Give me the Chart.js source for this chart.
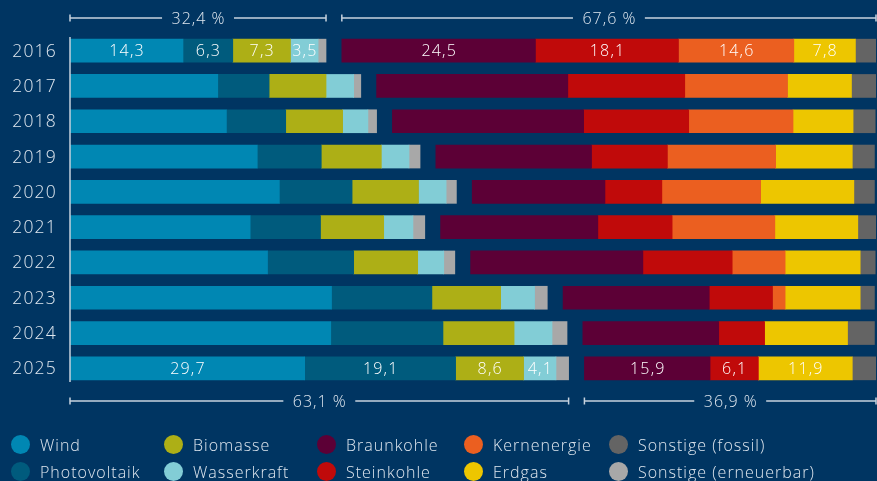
<!DOCTYPE html>
<html lang="de">
<head>
<meta charset="utf-8">
<script src="https://cdn.jsdelivr.net/npm/chart.js@4/dist/chart.umd.min.js"></script>
<style>
    html, body { margin: 0; padding: 0; background: #003562; }
    #wrap { position: relative; width: 877px; height: 481px; overflow: hidden; }
    #legend {
        position: absolute; left: 11px; top: 431px;
        display: grid; grid-template-columns: 153px 153px 147px 145px 240px;
        grid-auto-flow: column; grid-template-rows: 27px 27px;
        font-family: 'Open Sans', sans-serif; font-size: 16px; font-weight: 300;
        letter-spacing: 1px; color: #dfe7ef;
    }
    .item { display: flex; align-items: center; white-space: nowrap; }
    .dot { width: 19px; height: 19px; border-radius: 50%; margin-right: 10px; flex: none; }
</style>
</head>
<body>
<div id="wrap">
    <canvas id="chart" width="877" height="481"></canvas>
    <div id="legend"></div>
</div>
<script>
// Jahre (Kategorien)
const years = ['2016', '2017', '2018', '2019', '2020', '2021', '2022', '2023', '2024', '2025'];

// Anteile in Prozent - erneuerbar
const wind = [14.3, 18.7, 19.8, 23.7, 26.5, 22.8, 25.0, 33.1, 33.0, 29.7];
const photovoltaik = [6.3, 6.5, 7.5, 8.1, 9.2, 8.9, 10.9, 12.7, 14.2, 19.1];
const biomasse = [7.3, 7.2, 7.2, 7.6, 8.4, 8.0, 8.1, 8.7, 9.0, 8.6];
const wasserkraft = [3.5, 3.5, 3.2, 3.5, 3.5, 3.7, 3.3, 4.3, 4.8, 4.1];
const sonstigeErneuerbar = [1.0, 0.9, 1.1, 1.4, 1.3, 1.5, 1.4, 1.6, 1.9, 1.6];

// Anteile in Prozent - fossil / nuklear
const braunkohle = [24.5, 24.2, 24.2, 19.7, 16.8, 19.9, 21.8, 18.5, 17.2, 15.9];
const steinkohle = [18.1, 14.8, 13.3, 9.6, 7.2, 9.4, 11.3, 8.0, 5.8, 6.1];
const kernenergie = [14.6, 13.0, 13.2, 13.7, 12.5, 13.0, 6.7, 1.6, 0, 0];
const erdgas = [7.8, 8.1, 7.6, 9.7, 11.8, 10.5, 9.5, 9.5, 10.5, 11.9];
const sonstigeFossil = [2.6, 3.1, 2.8, 2.8, 2.6, 2.3, 1.9, 1.8, 3.4, 3.0];

// Abstand zwischen den beiden Gruppen (in Prozentpunkten der Achse)
const gapWidth = 2.0;

const textColor = '#dfe7ef';
const lineColor = '#c6d2de';
const fontFamily = "'Open Sans', sans-serif";

const renewable = [
    { label: 'Wind', data: wind, color: '#0087b3', showValue: true },
    { label: 'Photovoltaik', data: photovoltaik, color: '#005b7d', showValue: true },
    { label: 'Biomasse', data: biomasse, color: '#adaf16', showValue: true },
    { label: 'Wasserkraft', data: wasserkraft, color: '#82cdd6', showValue: true },
    { label: 'Sonstige (erneuerbar)', data: sonstigeErneuerbar, color: '#a8a8a8', showValue: false }
];
const fossil = [
    { label: 'Braunkohle', data: braunkohle, color: '#5c0036', showValue: true },
    { label: 'Steinkohle', data: steinkohle, color: '#c00a0a', showValue: true },
    { label: 'Kernenergie', data: kernenergie, color: '#eb5f20', showValue: true },
    { label: 'Erdgas', data: erdgas, color: '#edc600', showValue: true },
    { label: 'Sonstige (fossil)', data: sonstigeFossil, color: '#646464', showValue: false }
];

// Legende in Spalten-Reihenfolge wie im Original
const legendOrder = ['Wind', 'Photovoltaik', 'Biomasse', 'Wasserkraft', 'Braunkohle', 'Steinkohle',
    'Kernenergie', 'Erdgas', 'Sonstige (fossil)', 'Sonstige (erneuerbar)'];

function fmt(v) {
    return v.toFixed(1).replace('.', ',');
}

function toDataset(s) {
    return {
        label: s.label,
        data: s.data,
        backgroundColor: s.color,
        borderWidth: 0,
        barThickness: 23,
        showValue: s.showValue
    };
}

const datasets = renewable.map(toDataset)
    .concat([{ label: 'gap', data: years.map(() => gapWidth), backgroundColor: 'rgba(0,0,0,0)', barThickness: 23, showValue: false }])
    .concat(fossil.map(toDataset));

// Beschriftungen, Klammern und Achslinie
const annotationPlugin = {
    id: 'annotations',
    afterDatasetsDraw(chart) {
        const ctx = chart.ctx;
        const area = chart.chartArea;
        const ds = chart.data.datasets;
        const yScale = chart.scales.y;

        ctx.save();
        // vertikale Achslinie
        ctx.strokeStyle = lineColor;
        ctx.lineWidth = 1.5;
        ctx.beginPath();
        ctx.moveTo(area.left, area.top + 4);
        ctx.lineTo(area.left, area.bottom - 4);
        ctx.stroke();

        // Jahresbeschriftung links
        ctx.font = '300 17.5px ' + fontFamily;
        ctx.letterSpacing = '1.2px';
        ctx.fillStyle = textColor;
        ctx.textAlign = 'right';
        ctx.textBaseline = 'middle';
        years.forEach((y, i) => {
            ctx.fillText(y, area.left - 13, yScale.getPixelForValue(i) + 1);
        });

        // Werte in erstem und letztem Balken
        ctx.font = '300 16px ' + fontFamily;
        ctx.letterSpacing = '1.2px';
        ctx.fillStyle = '#ffffff';
        ctx.textAlign = 'center';
        [0, years.length - 1].forEach(i => {
            ds.forEach((d, di) => {
                if (!d.showValue || !d.data[i]) return;
                const el = chart.getDatasetMeta(di).data[i];
                ctx.fillText(fmt(d.data[i]), (el.x + el.base) / 2 + 0.6, el.y + 1);
            });
        });

        // Klammern mit Summen
        const idx = name => ds.findIndex(d => d.label === name);
        const bracket = (x1, x2, y, text) => {
            ctx.font = '300 16px ' + fontFamily;
            ctx.letterSpacing = '1px';
            const w = ctx.measureText(text).width;
            const mid = (x1 + x2) / 2;
            ctx.strokeStyle = lineColor;
            ctx.lineWidth = 1.5;
            ctx.beginPath();
            ctx.moveTo(x1, y); ctx.lineTo(mid - w / 2 - 9, y);
            ctx.moveTo(mid + w / 2 + 9, y); ctx.lineTo(x2, y);
            ctx.moveTo(x1, y - 3.5); ctx.lineTo(x1, y + 3.5);
            ctx.moveTo(x2, y - 3.5); ctx.lineTo(x2, y + 3.5);
            ctx.stroke();
            ctx.fillStyle = textColor;
            ctx.fillText(text, mid + 0.5, y + 1);
        };
        [[0, 18], [years.length - 1, 401]].forEach(([i, y]) => {
            const rStart = chart.getDatasetMeta(idx('Wind')).data[i].base;
            const rEnd = chart.getDatasetMeta(idx('Sonstige (erneuerbar)')).data[i].x;
            const fStart = chart.getDatasetMeta(idx('Braunkohle')).data[i].base;
            const fEnd = chart.getDatasetMeta(idx('Sonstige (fossil)')).data[i].x;
            const rSum = renewable.reduce((a, s) => a + s.data[i], 0);
            const fSum = fossil.reduce((a, s) => a + s.data[i], 0);
            bracket(rStart, rEnd, y, fmt(rSum) + ' %');
            bracket(fStart, fEnd, y, fmt(fSum) + ' %');
        });
        ctx.restore();
    }
};

function renderChart() {
    const ctx = document.getElementById('chart').getContext('2d');
    new Chart(ctx, {
        type: 'bar',
        data: { labels: years, datasets: datasets },
        options: {
            indexAxis: 'y',
            responsive: false,
            animation: false,
            layout: { padding: { top: 33, bottom: 95, right: 1, left: 0 } },
            scales: {
                x: { stacked: true, min: 0, max: 100 + gapWidth, display: false },
                y: {
                    stacked: true,
                    grid: { display: false },
                    border: { display: false },
                    ticks: { display: false },
                    afterFit(scale) { scale.width = 70; }
                }
            },
            plugins: {
                legend: { display: false },
                tooltip: { enabled: false }
            }
        },
        plugins: [annotationPlugin]
    });
}

function renderLegend() {
    const legend = document.getElementById('legend');
    const all = renewable.concat(fossil);
    legendOrder.forEach(name => {
        const s = all.find(x => x.label === name);
        legend.innerHTML += `<div class="item"><span class="dot" style="background:${s.color}"></span>${s.label}</div>`;
    });
}

Chart.defaults.font.family = fontFamily;
renderChart();
renderLegend();
</script>
</body>
</html>
